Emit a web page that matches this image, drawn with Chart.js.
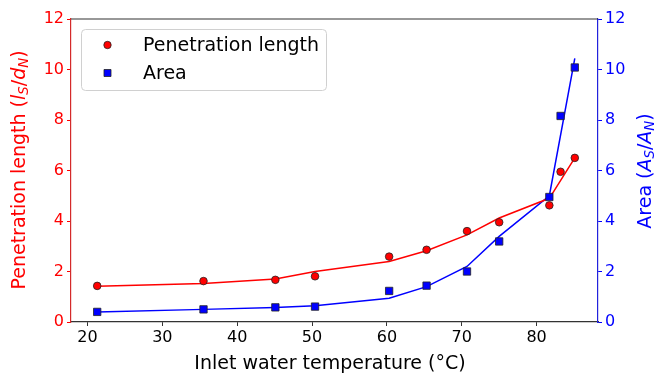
<!DOCTYPE html>
<html>
<head>
<meta charset="utf-8">
<script src="https://cdn.jsdelivr.net/npm/chart.js@4.4.0/dist/chart.umd.min.js"></script>
<style>
  html, body { margin: 0; padding: 0; background: #fff; }
  #wrap { width: 656px; height: 375px; }
</style>
</head>
<body>
<div id="wrap"><canvas id="chart" width="656" height="375"></canvas></div>
<script>
// measured points
const tempX = [21.3, 35.5, 45.1, 50.4, 60.3, 65.3, 70.7, 75.0, 81.7, 83.2, 85.1];
const lengthY = [1.43, 1.62, 1.67, 1.81, 2.59, 2.86, 3.60, 3.95, 4.62, 5.95, 6.50];
const areaY = [0.40, 0.50, 0.58, 0.61, 1.23, 1.44, 2.00, 3.19, 4.95, 8.16, 10.08];

// fitted curves
const fitX = [21.3, 35.5, 45.1, 50.4, 60.3, 65.3, 70.7, 75.0, 81.7, 85.1];
const lengthFit = [1.42, 1.52, 1.70, 2.00, 2.40, 2.82, 3.45, 4.12, 4.90, 6.50];
const areaFit = [0.40, 0.50, 0.57, 0.64, 0.94, 1.40, 2.20, 3.39, 5.00, 10.44];

const xTicks = [20, 30, 40, 50, 60, 70, 80];
const yTicks = [0, 2, 4, 6, 8, 10, 12];

const FONT = "'DejaVu Sans', sans-serif";
const TICK_SIZE = 16;
const TITLE_SIZE = 19;

const toXY = (xs, ys) => xs.map((x, i) => ({ x: x, y: ys[i] }));

// rich text helper: segments [{t, it, sub}]
function drawRich(ctx, segs, cx, cy, size, color, rotate) {
    ctx.save();
    ctx.translate(cx, cy);
    if (rotate) ctx.rotate(rotate);
    ctx.fillStyle = color;
    ctx.textBaseline = 'middle';
    ctx.textAlign = 'left';
    const fontOf = s => (s.it ? 'italic ' : '') + (s.sub ? size * 0.7 : size) + 'px ' + FONT;
    let total = 0;
    segs.forEach(s => { ctx.font = fontOf(s); total += ctx.measureText(s.t).width; });
    let x = -total / 2;
    segs.forEach(s => {
        ctx.font = fontOf(s);
        ctx.fillText(s.t, x, s.sub ? size * 0.25 : 0);
        x += ctx.measureText(s.t).width;
    });
    ctx.restore();
}

const decorPlugin = {
    id: 'decor',
    afterDraw(chart) {
        const ctx = chart.ctx;
        const a = chart.chartArea;
        // top spine
        ctx.save();
        ctx.strokeStyle = '#333';
        ctx.lineWidth = 1.2;
        ctx.beginPath();
        ctx.moveTo(a.left, a.top);
        ctx.lineTo(a.right, a.top);
        ctx.stroke();
        ctx.restore();

        // axis titles
        drawRich(ctx, [{ t: 'Inlet water temperature (°C)' }], 330, 364, TITLE_SIZE, '#000', 0);
        drawRich(ctx, [
            { t: 'Penetration length (' },
            { t: 'l', it: true }, { t: 'S', it: true, sub: true },
            { t: '/' },
            { t: 'd', it: true }, { t: 'N', it: true, sub: true },
            { t: ')' }
        ], 20, 170, TITLE_SIZE, '#ff0000', -Math.PI / 2);
        drawRich(ctx, [
            { t: 'Area (' },
            { t: 'A', it: true }, { t: 'S', it: true, sub: true },
            { t: '/' },
            { t: 'A', it: true }, { t: 'N', it: true, sub: true },
            { t: ')' }
        ], 646, 171, TITLE_SIZE, '#0000ff', -Math.PI / 2);

        // legend
        const lx = 81, ly = 29, lw = 245, lh = 61;
        ctx.save();
        ctx.beginPath();
        ctx.roundRect(lx + 0.5, ly + 0.5, lw, lh, 4);
        ctx.fillStyle = 'rgba(255,255,255,0.8)';
        ctx.fill();
        ctx.strokeStyle = '#d0d0d0';
        ctx.lineWidth = 1;
        ctx.stroke();
        ctx.font = TITLE_SIZE + 'px ' + FONT;
        ctx.textBaseline = 'middle';
        ctx.fillStyle = '#000';
        const items = chart.data.datasets.slice(0, 2);
        items.forEach((ds, i) => {
            const my = 45 + i * 28;
            ctx.beginPath();
            if (ds.pointStyle === 'rect') {
                ctx.rect(104, my - 3.5, 7, 7);
            } else {
                ctx.arc(107.5, my, 3.7, 0, Math.PI * 2);
            }
            ctx.fillStyle = ds.pointBackgroundColor;
            ctx.fill();
            ctx.strokeStyle = '#222';
            ctx.lineWidth = 0.8;
            ctx.stroke();
            ctx.fillStyle = '#000';
            ctx.fillText(ds.label, 143, my + 1);
        });
        ctx.restore();
    }
};

const ctx = document.getElementById('chart').getContext('2d');
new Chart(ctx, {
    type: 'scatter',
    data: {
        datasets: [
            {
                label: 'Penetration length',
                data: toXY(tempX, lengthY),
                yAxisID: 'y',
                pointStyle: 'circle',
                pointRadius: 3.8,
                pointBackgroundColor: '#ff0000',
                pointBorderColor: '#222',
                pointBorderWidth: 0.8,
                showLine: false
            },
            {
                label: 'Area',
                data: toXY(tempX, areaY),
                yAxisID: 'y1',
                pointStyle: 'rect',
                pointRadius: 5.2,
                pointBackgroundColor: '#0000ff',
                pointBorderColor: '#222',
                pointBorderWidth: 0.8,
                showLine: false
            },
            {
                label: 'Penetration fit',
                data: toXY(fitX, lengthFit),
                yAxisID: 'y',
                showLine: true,
                borderColor: '#ff0000',
                borderWidth: 1.5,
                pointRadius: 0
            },
            {
                label: 'Area fit',
                data: toXY(fitX, areaFit),
                yAxisID: 'y1',
                showLine: true,
                borderColor: '#0000ff',
                borderWidth: 1.5,
                pointRadius: 0
            }
        ]
    },
    options: {
        responsive: false,
        animation: false,
        layout: { padding: { top: 19, left: 0, right: 0, bottom: 0 } },
        plugins: {
            legend: { display: false },
            tooltip: { enabled: false }
        },
        scales: {
            x: {
                type: 'linear',
                min: 17.8,
                max: 88.2,
                afterBuildTicks: axis => { axis.ticks = xTicks.map(v => ({ value: v })); },
                afterFit: axis => { axis.height = 53; },
                grid: { display: true, drawOnChartArea: false, drawTicks: true, tickLength: 4, color: '#333', lineWidth: 1 },
                border: { color: '#333', width: 1.2 },
                ticks: { color: '#000', font: { family: FONT, size: TICK_SIZE }, padding: 2, maxRotation: 0 }
            },
            y: {
                position: 'left',
                min: 0,
                max: 12,
                afterBuildTicks: axis => { axis.ticks = yTicks.map(v => ({ value: v })); },
                afterFit: axis => { axis.width = 71; },
                grid: { display: true, drawOnChartArea: false, drawTicks: true, tickLength: 4, color: '#ff0000' },
                border: { color: '#d42a2a', width: 1.2 },
                ticks: { color: '#ff0000', font: { family: FONT, size: TICK_SIZE }, padding: 3 }
            },
            y1: {
                position: 'right',
                min: 0,
                max: 12,
                afterBuildTicks: axis => { axis.ticks = yTicks.map(v => ({ value: v })); },
                afterFit: axis => { axis.width = 58; },
                grid: { display: true, drawOnChartArea: false, drawTicks: true, tickLength: 4, color: '#0000ff' },
                border: { color: '#2222dd', width: 1.2 },
                ticks: { color: '#0000ff', font: { family: FONT, size: TICK_SIZE }, padding: 3 }
            }
        }
    },
    plugins: [decorPlugin]
});
</script>
</body>
</html>
